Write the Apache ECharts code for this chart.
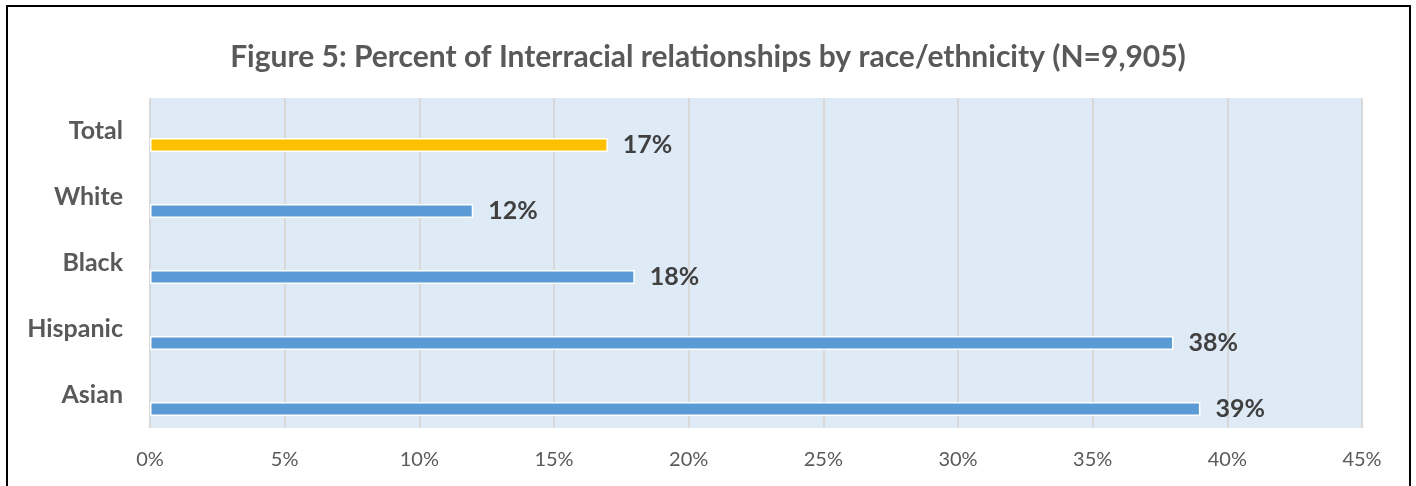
<!DOCTYPE html>
<html><head><meta charset="utf-8">
<script src="https://cdn.jsdelivr.net/npm/echarts@6/dist/echarts.min.js"></script>
<style>html,body{margin:0;padding:0;background:#fff}#c{width:1416px;height:486px}</style>
</head><body><div id="c"></div>
<script>
const categories = ['Total', 'White', 'Black', 'Hispanic', 'Asian'];
const values = [17, 12, 18, 38, 39];
const barColors = ['#FFC000', '#5B9BD5', '#5B9BD5', '#5B9BD5', '#5B9BD5'];
const titleText = 'Figure 5: Percent of Interracial relationships by race/ethnicity (N=9,905)';

const chart = echarts.init(document.getElementById('c'));
chart.setOption({
  animation: false,
  title: {
    text: titleText, left: 'center', top: 37,
    textStyle: {fontFamily: 'Lato', fontWeight: 'bold', fontSize: 30, color: '#595959'}
  },
  graphic: [{type: 'rect', shape: {x: 7, y: 6, width: 1403, height: 490},
    style: {fill: 'none', stroke: '#000', lineWidth: 2}, silent: true}],
  grid: {left: 150, right: 54, top: 98, bottom: 58, show: true, backgroundColor: '#DEEAF6', borderWidth: 0},
  xAxis: {
    type: 'value', min: 0, max: 45, interval: 5,
    axisLine: {show: false}, axisTick: {show: false},
    splitLine: {lineStyle: {color: '#D9D9D9', width: 2}},
    axisLabel: {formatter: '{value}%', margin: 22, fontFamily: 'Lato', fontSize: 20, color: '#595959'}
  },
  yAxis: {
    type: 'category', data: categories, inverse: true,
    axisLine: {show: false}, axisTick: {show: false},
    axisLabel: {margin: 27, fontFamily: 'Lato', fontWeight: 'bold', fontSize: 25, color: '#595959'}
  },
  series: [{
    type: 'bar', barWidth: 14, barGap: '100%', data: categories.map(() => '-')
  }, {
    type: 'bar', barWidth: 14, barGap: '100%',
    data: values.map((v, i) => ({value: v, itemStyle: {color: barColors[i]}})),
    itemStyle: {borderColor: '#fff', borderWidth: 1.5},
    label: {show: true, position: 'right', distance: 15, formatter: '{c}%',
      fontFamily: 'Lato', fontWeight: 'bold', fontSize: 25, color: '#404040'}
  }]
});
</script></body></html>
